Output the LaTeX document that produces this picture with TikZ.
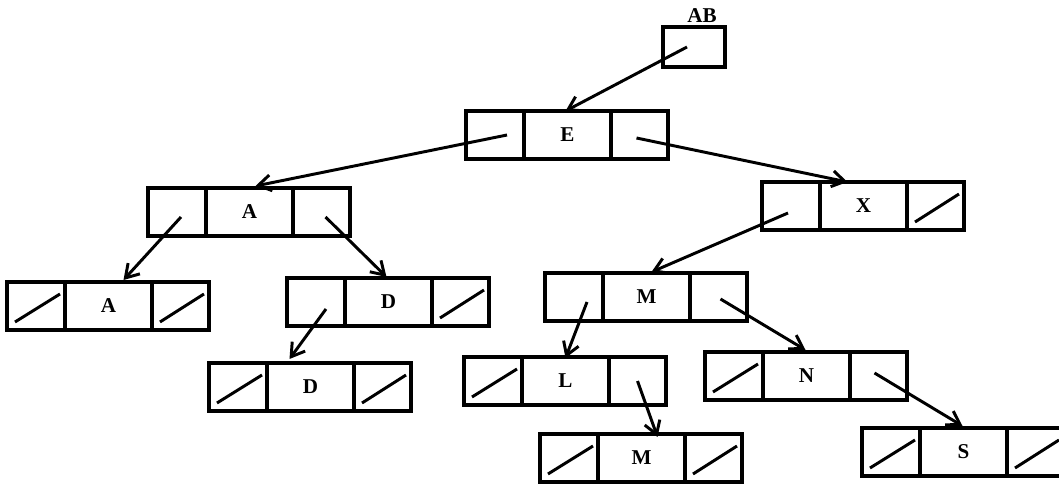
\documentclass[tikz,border=0pt]{standalone}
\usepackage{fontspec}
\setmainfont{Liberation Serif}
\usetikzlibrary{arrows.meta}

% one list node: left pointer cell, key cell, right pointer cell
\newcommand\llnode[4]{%
  \node[lcell, anchor=north west] (#1-l) at (#2,#3) {};
  \node[mcell, anchor=west] (#1) at (#1-l.east) {#4};
  \node[rcell, anchor=west] (#1-r) at (#1.east) {};
}
% null pointer: a slash across the cell
\newcommand\nilptr[1]{%
  \draw[slash] ([shift={(8,-8)}]#1.south west) -- ([shift={(-5,12)}]#1.north east);
}

\tikzset{
  cellbase/.style={draw, line width=2.2pt, outer sep=0pt, inner sep=0pt,
    minimum height=48*0.025cm, font=\fontsize{15}{17}\selectfont\bfseries},
  lcell/.style={cellbase, minimum width=58*0.025cm},
  mcell/.style={cellbase, minimum width=87*0.025cm},
  rcell/.style={cellbase, minimum width=57*0.025cm},
  headbox/.style={draw, line width=2.2pt, outer sep=0pt, inner sep=0pt,
    minimum width=62*0.025cm, minimum height=40*0.025cm},
  slash/.style={line width=2.1pt},
  ptr/.style={line width=2.1pt, -{Straight Barb[length=3.2mm, width=4mm]}},
  lbl/.style={font=\fontsize{15}{17}\selectfont\bfseries, inner sep=0pt}
}

\begin{document}
\begin{tikzpicture}[x=0.025cm, y=-0.025cm]
  \useasboundingbox[fill=white] (0,0) rectangle (1059,497);
  \clip (0,0) rectangle (1059,497);

  % head pointer
  \node[headbox, anchor=north west] (ab) at (663,27) {};
  \node[lbl] (ablbl) at (702,16) {AB};

  % list nodes
  \llnode{E}{466}{111}{E}
  \llnode{A}{148}{188}{A}
  \llnode{a2}{7}{282}{A}
  \llnode{D}{287}{278}{D}
  \llnode{d2}{209}{363}{D}
  \llnode{X}{762}{182}{X}
  \llnode{M}{545}{273}{M}
  \llnode{L}{464}{357}{L}
  \llnode{m2}{540}{434}{M}
  \llnode{N}{705}{352}{N}
  \llnode{S}{862}{428}{S}

  % null pointers
  \nilptr{a2-l} \nilptr{a2-r}
  \nilptr{D-r}
  \nilptr{d2-l} \nilptr{d2-r}
  \nilptr{X-r}
  \nilptr{L-l}
  \nilptr{m2-l} \nilptr{m2-r}
  \nilptr{N-l}
  \nilptr{S-l} \nilptr{S-r}

  % links
  \draw[ptr] ([shift={(-7,0)}]ab.center) -- ([shift={(-2,0)}]E.north);
  \draw[ptr] ([shift={(12,0)}]E-l.center) -- ([shift={(6,-2)}]A.north);
  \draw[ptr] ([shift={(-3,3)}]E-r.center) -- ([shift={(-16,0)}]X.north);
  \draw[ptr] ([shift={(4,5)}]A-l.center) -- ([shift={(15,-2)}]a2.north);
  \draw[ptr] ([shift={(4,5)}]A-r.center) -- ([shift={(-2,-1)}]D.north);
  \draw[ptr] ([shift={(10,7)}]D-l.center) -- ([shift={(-21,-4)}]d2.north);
  \draw[ptr] ([shift={(-3,7)}]X-l.center) -- ([shift={(5,-1)}]M.north);
  \draw[ptr] ([shift={(13,5)}]M-l.center) -- ([shift={(0,1)}]L.north);
  \draw[ptr] ([shift={(2,2)}]M-r.center) -- ([shift={(-1,-2)}]N.north);
  \draw[ptr] ([shift={(0,0)}]L-r.center) -- ([shift={(16,3)}]m2.north);
  \draw[ptr] ([shift={(-4,-3)}]N-r.center) -- ([shift={(-1,-2)}]S.north);
\end{tikzpicture}
\end{document}
